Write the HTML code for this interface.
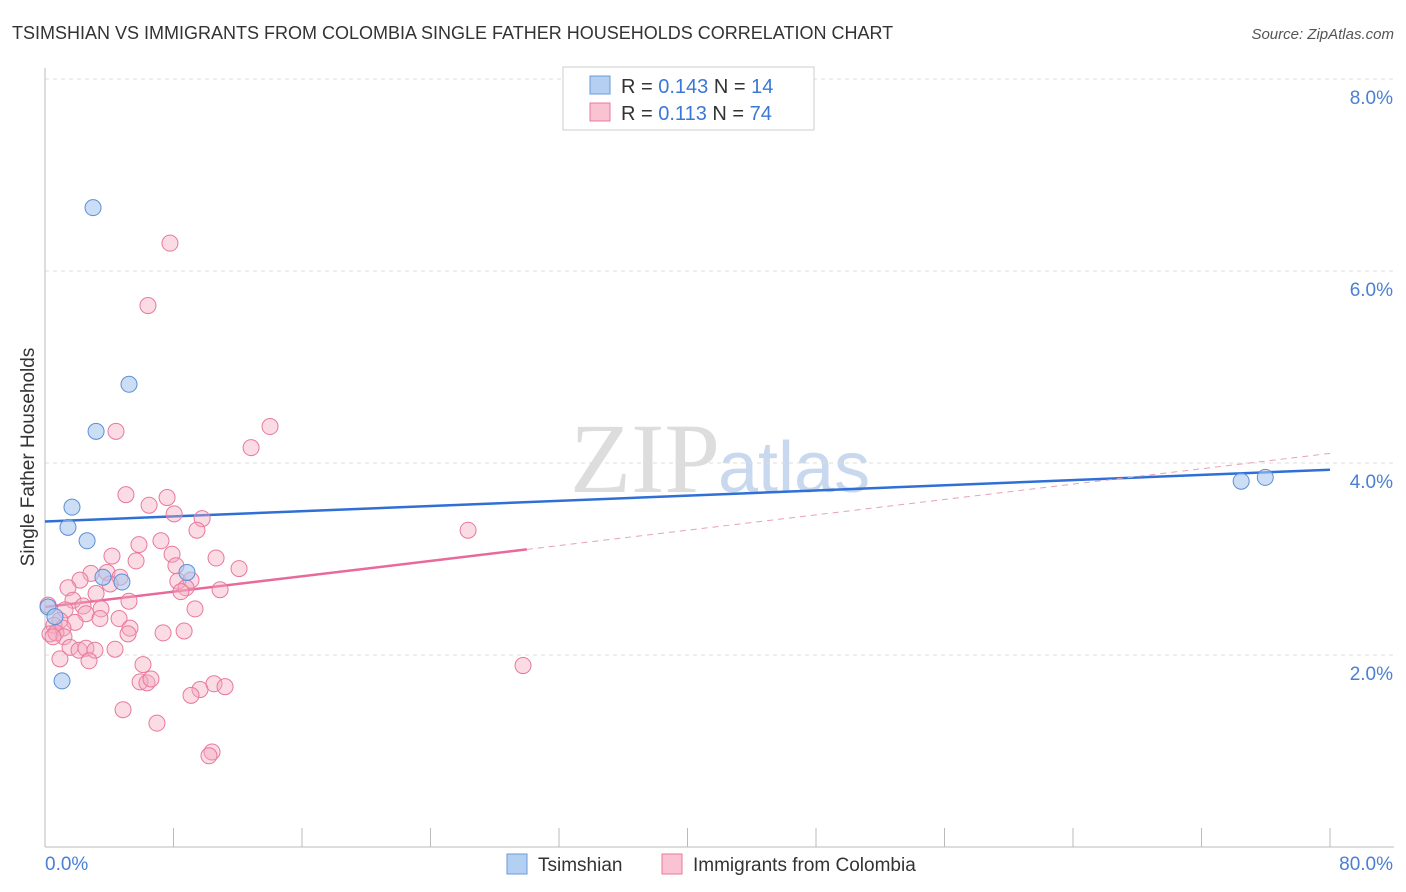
<!DOCTYPE html>
<html><head><meta charset="utf-8"><style>
body{margin:0;background:#fff;font-family:"Liberation Sans",sans-serif;}
#wrap{position:relative;width:1406px;height:892px;overflow:hidden}
</style></head><body><div id="wrap">
<svg id="svg" width="1406" height="892" xmlns="http://www.w3.org/2000/svg">
<text x="12" y="39" font-size="18" fill="#333">TSIMSHIAN VS IMMIGRANTS FROM COLOMBIA SINGLE FATHER HOUSEHOLDS CORRELATION CHART</text>
<text x="1394" y="39" font-size="15" fill="#555" font-style="italic" text-anchor="end">Source: ZipAtlas.com</text>
<text x="720" y="492" font-size="100" fill="#ddd" font-family="Liberation Serif,serif" text-anchor="end">ZIP</text>
<text x="718" y="492" font-size="72" fill="#c8d8ee">atlas</text>
<text transform="translate(34,457) rotate(-90)" font-size="19" fill="#333" text-anchor="middle">Single Father Households</text>
<g id="grid"></g><g id="axes"></g><g id="trend"></g><g id="pts"></g>
<g>
<rect x="563" y="67" width="251" height="63" fill="#fff" stroke="#ccc"/>
<rect x="590" y="76" width="20" height="18" fill="#b3cff2" stroke="#6b9bd8"/>
<text x="621" y="93" font-size="20" fill="#333">R = <tspan fill="#3b78d6">0.143</tspan>   N = <tspan fill="#3b78d6">14</tspan></text>
<rect x="590" y="103" width="20" height="18" fill="#f9c3d3" stroke="#e8799d"/>
<text x="621" y="120" font-size="20" fill="#333">R =  <tspan fill="#3b78d6">0.113</tspan>   N = <tspan fill="#3b78d6">74</tspan></text>
</g>
<g>
<rect x="507" y="854" width="20" height="20" fill="#b3cff2" stroke="#6b9bd8"/>
<text x="538" y="871" font-size="19" fill="#333">Tsimshian</text>
<rect x="662" y="854" width="20" height="20" fill="#f9c3d3" stroke="#e8799d"/>
<text x="693" y="871" font-size="19" fill="#333">Immigrants from Colombia</text>
</g>
</svg>
<script>
const yTicks=[2,4,6,8];
const yTickLabels=["2.0%","4.0%","6.0%","8.0%"];
const xTickLabels=["0.0%","80.0%"];
const blueX=[2.99,5.23,3.18,1.68,1.43,2.62,3.61,4.79,8.84,1.06,0.19,0.62,74.47,75.97];
const blueY=[6.66,4.82,4.33,3.54,3.33,3.19,2.81,2.76,2.86,1.73,2.50,2.40,3.81,3.85];
const pinkX=[7.78,6.41,14.01,12.83,4.42,5.04,7.60,6.48,8.04,9.78,9.46,26.34,5.85,7.22,4.17,7.91,10.65,5.67,8.15,12.08,2.86,3.86,4.67,2.18,8.27,9.09,4.05,1.43,8.78,10.90,8.46,3.18,1.74,5.23,2.37,0.19,1.25,3.49,9.34,2.55,4.61,3.42,0.93,1.87,0.56,5.29,1.12,8.66,0.31,0.68,5.17,7.35,1.18,0.50,1.56,2.12,2.55,3.11,4.36,0.93,2.74,6.10,29.76,5.92,6.35,6.60,9.65,10.52,11.21,9.09,4.86,6.97,10.40,10.21];
const pinkY=[6.29,5.64,4.38,4.16,4.33,3.67,3.64,3.56,3.47,3.42,3.30,3.30,3.15,3.19,3.03,3.05,3.01,2.98,2.93,2.90,2.85,2.86,2.81,2.78,2.77,2.78,2.74,2.70,2.70,2.68,2.66,2.64,2.57,2.56,2.51,2.52,2.47,2.48,2.48,2.43,2.38,2.38,2.36,2.34,2.31,2.28,2.28,2.25,2.22,2.23,2.22,2.23,2.19,2.19,2.08,2.05,2.07,2.05,2.06,1.96,1.94,1.90,1.89,1.72,1.71,1.75,1.64,1.70,1.67,1.58,1.43,1.29,0.99,0.95];
const blueTrend=[3.39,3.93];
const pinkTrend=[2.50,4.10];
const pinkSolidEnd=30;
const NS="http://www.w3.org/2000/svg";
const X0=45,X1=1330,Y0=847,PX=(X1-X0)/80,PY=96;
const sx=v=>X0+v*PX, sy=v=>Y0-v*PY;
function mk(tag,attrs,parent){const e=document.createElementNS(NS,tag);for(const k in attrs)e.setAttribute(k,attrs[k]);document.getElementById(parent).appendChild(e);return e;}
yTicks.forEach((t,i)=>{
 const l=mk('line',{x1:X0,x2:1394,y1:sy(t),y2:sy(t),stroke:'#ddd','stroke-dasharray':'4,4'},'grid');
 
 
 const tx=mk('text',{x:1393,y:sy(t)+25,'font-size':19,fill:'#4a7fd4','text-anchor':'end'},'grid');
 tx.textContent=yTickLabels[i];
 
 
});
const tl=mk('line',{x1:X0,x2:1394,y1:sy(8),y2:sy(8),stroke:'#ddd','stroke-dasharray':'4,4'},'grid');
let a=mk('line',{x1:X0,x2:X0,y1:68,y2:Y0,stroke:'#bbb'},'axes');


a=mk('line',{x1:X0,x2:1394,y1:Y0,y2:Y0,stroke:'#bbb'},'axes');


for(let i=0;i<=10;i++){const t=mk('line',{x1:sx(i*8),x2:sx(i*8),y1:828,y2:Y0,stroke:'#bbb'},'axes');
 
 }
[[0,'start',45],[80,'end',1393]].forEach((d,i)=>{const t=mk('text',{x:d[2],y:870,'font-size':19,fill:'#4a7fd4','text-anchor':d[1]},'axes');t.textContent=xTickLabels[i];
 
 });
const pk=x=>pinkTrend[0]+(pinkTrend[1]-pinkTrend[0])*x/80;
let l=mk('line',{x1:sx(0),y1:sy(blueTrend[0]),x2:sx(80),y2:sy(blueTrend[1]),stroke:'#2f6fd6','stroke-width':2.5},'trend');


l=mk('line',{x1:sx(0),y1:sy(pk(0)),x2:sx(pinkSolidEnd),y2:sy(pk(pinkSolidEnd)),stroke:'#e8699a','stroke-width':2.5},'trend');


l=mk('line',{x1:sx(pinkSolidEnd),y1:sy(pk(pinkSolidEnd)),x2:sx(80),y2:sy(pk(80)),stroke:'#e8a0b8','stroke-width':1,'stroke-dasharray':'6,5'},'trend');


pinkX.forEach((x,i)=>{const c=mk('circle',{cx:sx(x),cy:sy(pinkY[i]),r:8,fill:'rgba(244,167,191,0.4)',stroke:'#e8799d','stroke-width':1},'pts');
 
 });
blueX.forEach((x,i)=>{const c=mk('circle',{cx:sx(x),cy:sy(blueY[i]),r:8,fill:'rgba(169,200,238,0.6)',stroke:'#5b8fd6','stroke-width':1},'pts');
 
 });
</script>
</div></body></html>
